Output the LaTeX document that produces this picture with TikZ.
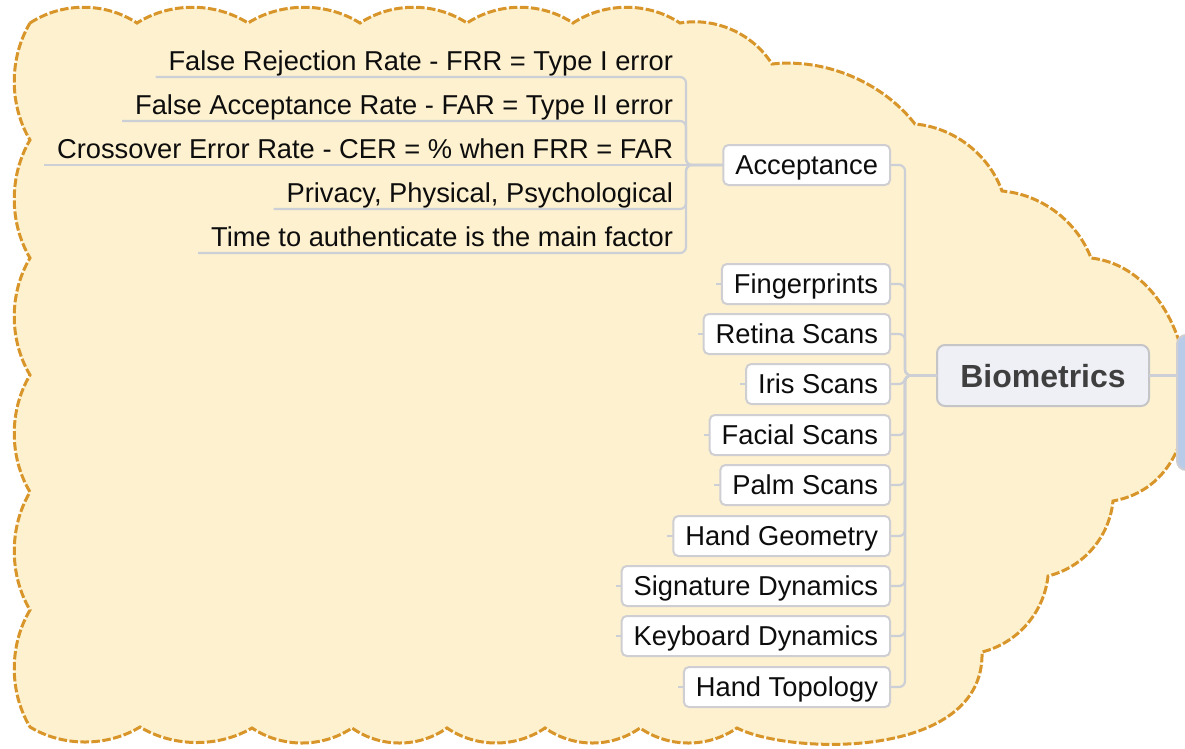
\documentclass[tikz,border=0pt]{standalone}
\usepackage{fontspec}
\setmainfont{Liberation Sans}
\usetikzlibrary{calc}
\definecolor{cloudfill}{HTML}{FDF1CF}
\definecolor{cloudline}{HTML}{D8952A}
\definecolor{conncol}{HTML}{CDCFD6}
\definecolor{boxline}{HTML}{CFCFD3}
\definecolor{biofill}{HTML}{EFF0F6}
\definecolor{biotext}{HTML}{3F3F3F}
\definecolor{rootfill}{HTML}{B8CBE8}
\newcommand\scal[3]{.. controls ($(#1)!0.3!(#2)!#3!90:(#2)$) and ($(#2)!0.3!(#1)!#3!-90:(#1)$) .. (#2)}
\begin{document}
\begin{tikzpicture}[x=1pt,y=-1pt,
  cloud/.style={fill=cloudfill, draw=cloudline, line width=3pt, dash pattern=on 8.5pt off 2.5pt},
  conn/.style={draw=conncol, line width=2.2pt, rounded corners=6pt},
  child/.style={draw=boxline, fill=white, line width=2pt, rounded corners=5pt,
    minimum height=40pt, inner xsep=12pt, inner ysep=0pt, text height=19pt, text depth=0pt,
    font=\fontsize{27.3}{33}\selectfont, text=black!95, anchor=east, outer sep=0pt},
  item/.style={inner xsep=13pt, inner ysep=1pt, text height=20pt, text depth=6pt,
    anchor=south east, outer sep=0pt, font=\fontsize{27.3}{33}\selectfont, text=black!95},
  bio/.style={draw=boxline!95!black, fill=biofill, line width=2pt, rounded corners=8pt,
    minimum width=212pt, minimum height=61pt, inner sep=0pt, text height=23pt, text depth=0pt,
    font=\fontsize{32}{38}\selectfont\bfseries, text=biotext, outer sep=0pt},
  rootbox/.style={draw=boxline, fill=rootfill, line width=2pt, rounded corners=9pt,
    minimum width=80pt, minimum height=135pt, anchor=north west, outer sep=0pt}
]
\clip (0,0) rectangle (1185,748);
% cloud cusps
\coordinate (p0) at (30,23);
\coordinate (p1) at (137,23);
\coordinate (p2) at (248,23);
\coordinate (p3) at (360,23);
\coordinate (p4) at (467,23);
\coordinate (p5) at (573,23);
\coordinate (p6) at (680,23);
\coordinate (p7) at (772,64);
\coordinate (p8) at (915,124);
\coordinate (p9) at (1002,191);
\coordinate (p10) at (1091,258);
\coordinate (p11) at (1113,501);
\coordinate (p12) at (1048,576);
\coordinate (p13) at (982,652);
\coordinate (p14) at (737,728);
\coordinate (p15) at (640,728);
\coordinate (p16) at (545,728);
\coordinate (p17) at (447,728);
\coordinate (p18) at (352,728);
\coordinate (p19) at (252,728);
\coordinate (p20) at (140,727);
\coordinate (p21) at (30,727);
\coordinate (p22) at (30,610);
\coordinate (p23) at (30,492);
\coordinate (p24) at (30,375);
\coordinate (p25) at (30,258);
\coordinate (p26) at (30,140);
\path[cloud] (p0) \scal{p0}{p1}{21pt} \scal{p1}{p2}{21pt} \scal{p2}{p3}{21pt}
  \scal{p3}{p4}{21pt} \scal{p4}{p5}{21pt} \scal{p5}{p6}{21pt} \scal{p6}{p7}{20pt}
  \scal{p7}{p8}{26pt} \scal{p8}{p9}{21pt} \scal{p9}{p10}{21pt}
  .. controls (1200,270) and (1230,480) .. (p11)
  \scal{p11}{p12}{21pt} \scal{p12}{p13}{21pt}
  .. controls (985,760) and (790,755) .. (p14)
  \scal{p14}{p15}{20pt} \scal{p15}{p16}{20pt} \scal{p16}{p17}{20pt} \scal{p17}{p18}{20pt}
  \scal{p18}{p19}{20pt} \scal{p19}{p20}{20pt} \scal{p20}{p21}{20pt}
  \scal{p21}{p22}{21pt} \scal{p22}{p23}{21pt} \scal{p23}{p24}{21pt} \scal{p24}{p25}{21pt}
  \scal{p25}{p26}{21pt} \scal{p26}{p0}{21pt} -- cycle;

% nodes
\node[rootbox] (root) at (1177,335) {};
\node[bio] (bio) at (1043,375.5) {Biometrics};
\coordinate (spine) at (905,375.5);

\node[child] (acc) at (890,165) {Acceptance};
\node[child] (fp) at (890,284) {Fingerprints};
\node[child] (ret) at (890,334) {Retina Scans};
\node[child] (iris) at (890,384) {Iris Scans};
\node[child] (fac) at (890,435) {Facial Scans};
\node[child] (palm) at (890,485) {Palm Scans};
\node[child] (hg) at (890,536) {Hand Geometry};
\node[child] (sig) at (890,586) {Signature Dynamics};
\node[child] (key) at (890,636) {Keyboard Dynamics};
\node[child] (topo) at (890,687) {Hand Topology};

\node[item] (frr) at (686,77) {False Rejection Rate - FRR = Type I error};
\node[item] (far) at (686,121) {False Acceptance Rate - FAR = Type II error};
\node[item] (cer) at (686,165) {Crossover Error Rate - CER = \% when FRR = FAR};
\node[item] (priv) at (686,209) {Privacy, Physical, Psychological};
\node[item] (time) at (686,253) {Time to authenticate is the main factor};

% connectors
\draw[conn] (bio.east) -- (bio.east -| root.west);
\foreach \c in {acc,fp,ret,iris,fac,palm,hg,sig,key,topo}{
  \draw[conn] (\c.east) -- (\c.east -| spine) -- (spine) -- (bio.west);
}
\foreach \c in {fp,ret,iris,fac,palm,hg,sig,key,topo}{
  \draw[conn] (\c.west) -- ++(-6,0);
}
\foreach \c in {frr,far,priv,time}{
  \draw[conn] (\c.south west) -- (\c.south east) -- (\c.south east |- acc.west) -- (acc.west);
}
\draw[conn] (cer.south west) -- (acc.west);
\end{tikzpicture}
\end{document}
